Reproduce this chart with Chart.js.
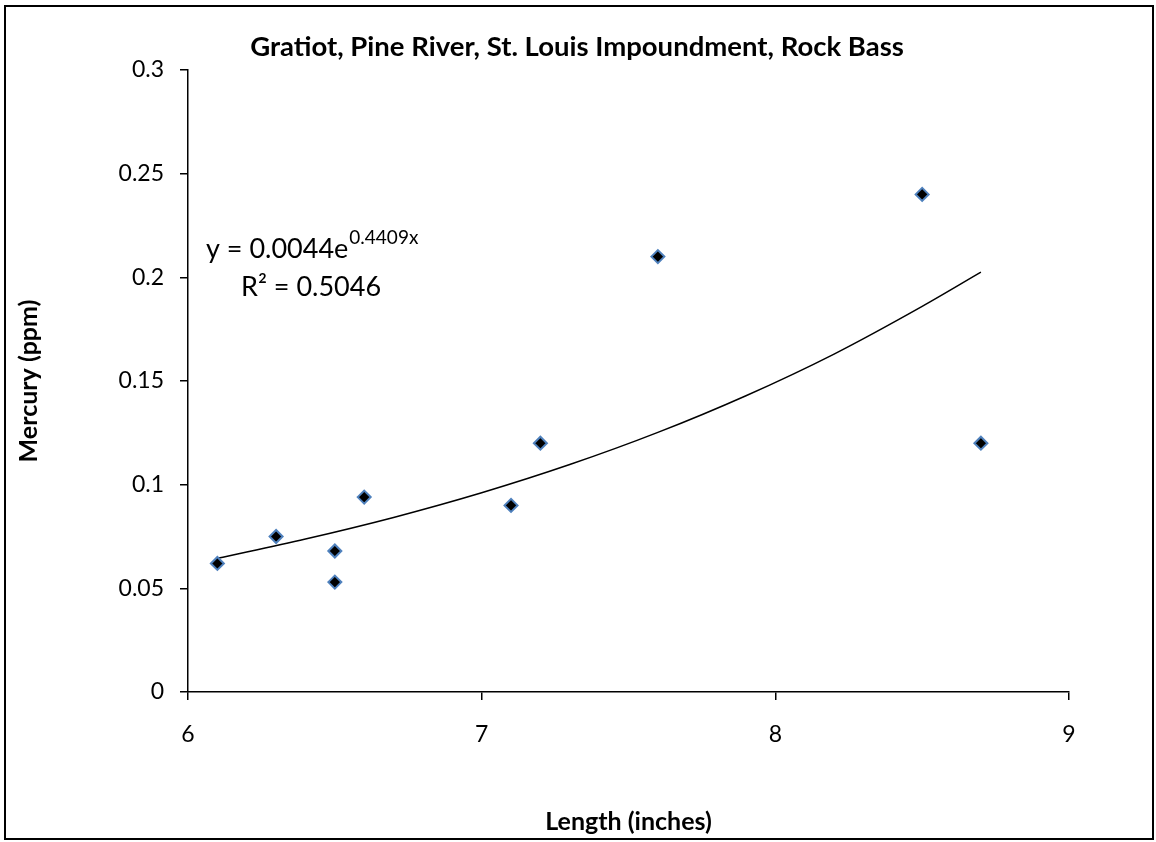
<!DOCTYPE html>
<html>
<head>
<meta charset="utf-8">
<script src="https://cdn.jsdelivr.net/npm/chart.js@4"></script>
<style>
  html, body { margin: 0; padding: 0; background: #ffffff; }
  #wrap { position: relative; width: 1156px; height: 842px; }
  canvas { display: block; }
</style>
</head>
<body>
<div id="wrap"><canvas id="c" width="1156" height="842"></canvas></div>
<script>
// ---- data ----
const chartTitle = "Gratiot, Pine River, St. Louis Impoundment, Rock Bass";
const xTitle = "Length (inches)";
const yTitle = "Mercury (ppm)";
const lengths = [6.1, 6.3, 6.5, 6.5, 6.6, 7.1, 7.2, 7.6, 8.5, 8.7];
const mercury = [0.062, 0.075, 0.068, 0.053, 0.094, 0.09, 0.12, 0.21, 0.24, 0.12];
// exponential trendline, points
const trendX = [6.1, 6.4, 6.7, 7.0, 7.3, 7.6, 7.9, 8.2, 8.5, 8.7];
const trendY = [0.0645, 0.0738, 0.0842, 0.0961, 0.1097, 0.1252, 0.1429, 0.1630, 0.1860, 0.2025];
const eqMain = "y = 0.0044e";
const eqExp = "0.4409x";
const r2Text = "R² = 0.5046";
const xMin = 6, xMax = 9, xStep = 1;
const yMin = 0, yMax = 0.3, yStep = 0.05;

const FONT = "Lato, 'Open Sans', 'Liberation Sans', sans-serif";

const scatterPts = lengths.map((x, i) => ({ x: x, y: mercury[i] }));
const trendPts = trendX.map((x, i) => ({ x: x, y: trendY[i] }));

const frame = {
  id: 'frame',
  beforeDraw(chart) {
    const ctx = chart.ctx;
    ctx.save();
    ctx.fillStyle = '#ffffff';
    ctx.fillRect(0, 0, chart.width, chart.height);
    ctx.strokeStyle = '#000000';
    ctx.lineWidth = 2;
    ctx.strokeRect(5, 6, 1148, 833);
    ctx.restore();
  },
  afterDraw(chart) {
    const ctx = chart.ctx;
    const a = chart.chartArea;
    ctx.save();
    ctx.fillStyle = '#000000';
    // chart title
    ctx.textAlign = 'center';
    ctx.textBaseline = 'middle';
    ctx.font = 'bold 27.5px ' + FONT;
    ctx.fillText(chartTitle, 577, 47);
    // trendline label
    ctx.textBaseline = 'alphabetic';
    ctx.textAlign = 'left';
    ctx.font = '27px ' + FONT;
    const x0 = a.left + 18, y0 = a.top + 188;
    ctx.fillText(eqMain, x0, y0);
    const w = ctx.measureText(eqMain).width;
    ctx.font = '19px ' + FONT;
    ctx.fillText(eqExp, x0 + w + 1, y0 - 14);
    ctx.font = '27px ' + FONT;
    ctx.fillText(r2Text, a.left + 53, y0 + 38);
    ctx.restore();
  }
};

new Chart(document.getElementById('c'), {
  type: 'scatter',
  data: {
    datasets: [
      {
        label: 'trend',
        data: trendPts,
        showLine: true,
        borderColor: '#000000',
        borderWidth: 1.5,
        pointRadius: 0,
        fill: false,
        cubicInterpolationMode: 'monotone',
        order: 2
      },
      {
        label: 'Rock Bass',
        data: scatterPts,
        pointStyle: 'rectRot',
        pointRadius: 6.5,
        pointBackgroundColor: '#000000',
        pointBorderColor: '#4f81bd',
        pointBorderWidth: 2,
        order: 1
      }
    ]
  },
  options: {
    responsive: false,
    animation: false,
    devicePixelRatio: 1,
    layout: { padding: { left: 0, right: 87, top: 70, bottom: 0 } },
    plugins: {
      legend: { display: false },
      tooltip: { enabled: false },
      title: { display: false }
    },
    scales: {
      x: {
        type: 'linear',
        min: xMin, max: xMax,
        afterFit(s) { s.height = 150; },
        ticks: { stepSize: xStep, color: '#000000', font: { family: FONT, size: 23 }, padding: 21 },
        grid: { drawOnChartArea: false, drawTicks: true, tickLength: 8, color: '#000000', lineWidth: 1.5 },
        border: { color: '#000000', width: 1.5 },
        title: { display: true, text: xTitle, color: '#000000', font: { family: FONT, size: 25, weight: 'bold', lineHeight: 1.2 }, padding: { top: 0, bottom: 5 } }
      },
      y: {
        type: 'linear',
        min: yMin, max: yMax,
        afterFit(s) { s.width = 188; },
        ticks: {
          stepSize: yStep, color: '#000000', font: { family: FONT, size: 23 }, padding: 16,
          callback: (v) => String(parseFloat(v.toFixed(2)))
        },
        grid: { drawOnChartArea: false, drawTicks: true, tickLength: 8, color: '#000000', lineWidth: 1.5 },
        border: { color: '#000000', width: 1.5 },
        title: { display: true, text: yTitle, color: '#000000', font: { family: FONT, size: 25, weight: 'bold', lineHeight: 1.2 }, padding: { top: 14, bottom: 0 } }
      }
    }
  },
  plugins: [frame]
});
</script>
</body>
</html>
